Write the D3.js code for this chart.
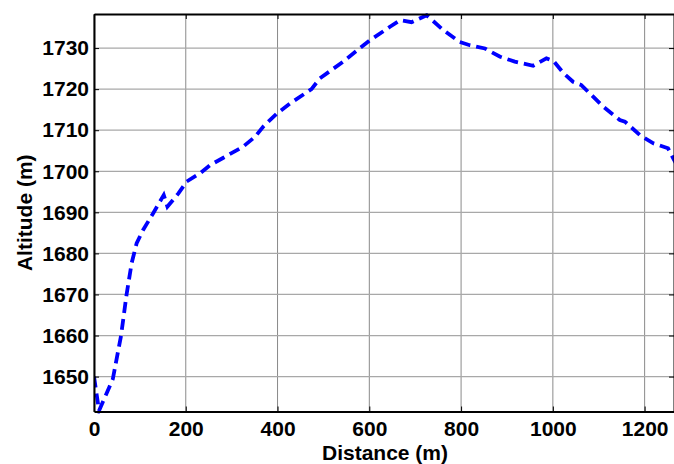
<!DOCTYPE html>
<html><head><meta charset="utf-8">
<script src="https://cdn.jsdelivr.net/npm/d3@7"></script>
<style>body{margin:0;background:#fff}svg{display:block}text{font-family:"Liberation Sans",Arial,sans-serif;font-weight:bold}</style>
</head><body><svg id="c" width="674" height="464"></svg>
<script>
const distance = [0, 11, 41, 59, 71, 82, 93, 107, 129, 152, 160, 184, 202, 231, 253, 282, 325, 351, 369, 399, 427, 474, 492, 543, 600, 645, 667, 692, 725, 761, 797, 819, 852, 885, 917, 957, 986, 1001, 1023, 1044, 1062, 1110, 1146, 1157, 1190, 1219, 1251, 1262, 1268];
const altitude = [1650, 1641.7, 1649.4, 1660, 1670, 1677.6, 1682.5, 1685.7, 1689.8, 1694.2, 1691.4, 1694.6, 1697.5, 1699.5, 1701.5, 1703.3, 1706, 1708.4, 1710.9, 1714.1, 1716.5, 1720, 1722.6, 1726.7, 1731.8, 1735.2, 1736.8, 1736.3, 1738, 1734.4, 1731.5, 1730.7, 1729.9, 1727.9, 1726.7, 1725.7, 1727.5, 1726.9, 1723.9, 1721.8, 1721, 1715.7, 1712.5, 1712.1, 1708.8, 1706.8, 1705.6, 1703.2, 1702];
const xTicks = [0, 200, 400, 600, 800, 1000, 1200];
const yTicks = [1650, 1660, 1670, 1680, 1690, 1700, 1710, 1720, 1730];
const xDomain = [0, 1264];
const yDomain = [1641.5, 1738.3];

const L = 94, R = 674, T = 14, B = 411.5;
const svg = d3.select("#c");
const x = d3.scaleLinear().domain(xDomain).range([L, R]);
const y = d3.scaleLinear().domain(yDomain).range([B, T]);

// grid
const g = svg.append("g");
g.selectAll(".vg").data(xTicks).join("line")
  .attr("x1", d => x(d)).attr("x2", d => x(d)).attr("y1", T).attr("y2", B)
  .attr("stroke", "#8a8a8a").attr("stroke-width", 1);
g.selectAll(".hg").data(yTicks).join("line")
  .attr("x1", L).attr("x2", R).attr("y1", d => y(d)).attr("y2", d => y(d))
  .attr("stroke", "#a8a8a8").attr("stroke-width", 1.3);

// line
svg.append("clipPath").attr("id", "clip").append("rect")
  .attr("x", L).attr("y", T - 2).attr("width", R - L).attr("height", B - T + 4);
svg.append("path").datum(distance.map((d, i) => [d, altitude[i]]))
  .attr("clip-path", "url(#clip)")
  .attr("fill", "none").attr("stroke", "#0000ff").attr("stroke-width", 3.8)
  .attr("stroke-dasharray", "11,6")
  .attr("d", d3.line().x(d => x(d[0])).y(d => y(d[1])));

// axes
const fmt = d3.format("d");
const axB = d3.axisBottom(x).tickValues(xTicks).tickFormat(fmt).tickSizeInner(-5).tickSizeOuter(0).tickPadding(10);
const axL = d3.axisLeft(y).tickValues(yTicks).tickFormat(fmt).tickSizeInner(-5).tickSizeOuter(0).tickPadding(5);
const axT = d3.axisTop(x).tickValues(xTicks).tickSizeInner(-5).tickSizeOuter(0).tickFormat("");
const axR = d3.axisRight(y).tickValues(yTicks).tickSizeInner(-5).tickSizeOuter(0).tickFormat("");
function style(sel){
  sel.select(".domain").attr("stroke", "#000").attr("stroke-width", 2);
  sel.selectAll(".tick line").attr("stroke", "#000").attr("stroke-width", 1);
  sel.selectAll("text").attr("fill", "#000").style("font-size", "21px").style("font-weight", "bold")
     .style("font-family", '"Liberation Sans", Arial, sans-serif');
}
svg.append("g").attr("transform", `translate(0,${B})`).call(axB).call(style);
svg.append("g").attr("transform", `translate(${L},0)`).call(axL).call(style);
svg.append("g").attr("transform", `translate(0,${T})`).call(axT).call(style);
svg.append("g").attr("transform", `translate(${R},0)`).call(axR).call(style);

svg.append("text").attr("x", 385).attr("y", 460).attr("text-anchor", "middle")
  .style("font-size", "21px").text("Distance (m)");
svg.append("text").attr("transform", `translate(32,${(T + B) / 2}) rotate(-90)`).attr("text-anchor", "middle")
  .style("font-size", "21px").text("Altitude (m)");
</script></body></html>
